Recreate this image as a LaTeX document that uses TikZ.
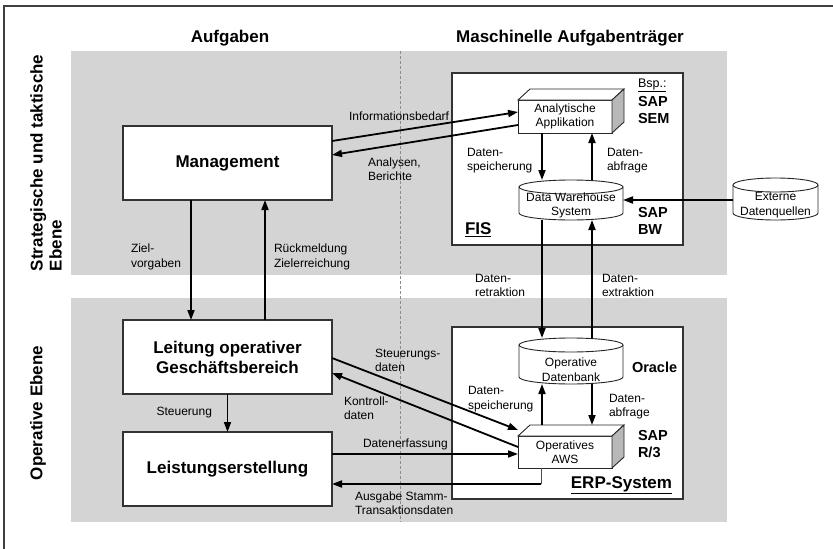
\documentclass[tikz,border=0pt]{standalone}
\usepackage{fontspec}
\setmainfont{Liberation Sans}
\usetikzlibrary{arrows.meta,calc}

% cylinder outline: #1 left x, #2 right x, #3 y of top ellipse centre, #4 y of bottom ellipse centre
\newcommand\dbshape[4]{%
  \filldraw[dbline] (#1,#3) -- (#1,#4)
    arc[start angle=180, end angle=0, x radius={(#2-#1)/2}, y radius=7] -- (#2,#3);
  \draw[dbline] ({(#1+#2)/2},#3) ellipse [x radius={(#2-#1)/2}, y radius=7];
}
% 3d block: top and right faces beside a front-face node
\newcommand\blockfaces[1]{%
  \filldraw[blockline] (#1.north west) -- ++(12,-11) -- ($(#1.north east)+(12,-11)$) -- (#1.north east) -- cycle;
  \filldraw[blockline, fill=black!28] (#1.north east) -- ++(12,-11) -- ($(#1.south east)+(12,-11)$) -- (#1.south east) -- cycle;
}

\begin{document}
\begin{tikzpicture}[x=1pt, y=-1pt,
  every node/.style={inner sep=0pt, outer sep=0pt},
  band/.style={fill=black!17, draw=none},
  frameline/.style={draw=black!75, line width=1.3pt},
  coltitle/.style={font=\fontsize{17}{20}\selectfont\bfseries},
  sidetitle/.style={font=\fontsize{17}{19}\selectfont\bfseries, align=left},
  taskbox/.style={draw=black!80, line width=1.1pt, fill=white, minimum width=209pt,
    minimum height=74pt, align=center, font=\fontsize{17}{20}\selectfont\bfseries},
  sysbox/.style={draw=black!80, line width=1.1pt, fill=white},
  blockline/.style={draw=black!85, line width=0.9pt, fill=white},
  dbline/.style={draw=black!85, line width=0.9pt, fill=white},
  block/.style={blockline, minimum width=94pt, minimum height=33pt, align=center,
    font=\fontsize{12}{14.5}\selectfont},
  dbbody/.style={minimum width=104pt, minimum height=40pt},
  dbtext/.style={align=center, font=\fontsize{12}{14.5}\selectfont},
  small/.style={align=left, font=\fontsize{12}{14.5}\selectfont},
  product/.style={align=left, font=\fontsize{14.5}{17}\selectfont\bfseries},
  sysname/.style={font=\fontsize{17}{20}\selectfont\bfseries},
  flow/.style={line width=1.8pt, -{Triangle[length=10pt,width=7pt]}}
]
\useasboundingbox (0,0) rectangle (833,549);
\fill[white] (0,0) rectangle (833,549);

% outer frame
\draw[frameline] (4,549) -- (4,6) -- (833,6);

% level bands
\fill[band] (71,51) rectangle (727,275);
\fill[band] (71,298) rectangle (727,522);
\draw[black!45, line width=0.6pt, dash pattern=on 3pt off 2pt] (400,51) -- (400,522);

% column and level titles
\node[coltitle] (ctask) at (230,38) {Aufgaben};
\node[coltitle] (cmach) at (570,38) {Maschinelle Aufgabenträger};
\node[sidetitle, rotate=90, anchor=west] (lvlstrat) at (46,271) {Strategische und taktische\\Ebene};
\node[sidetitle, rotate=90] (lvlop) at (38,413) {Operative Ebene};

% task boxes
\node[taskbox] (mgmt) at (227.5,163) {Management};
\node[taskbox] (leit) at (227.5,357) {Leitung operativer\\Geschäftsbereich};
\node[taskbox] (leist) at (227.5,469) {Leistungserstellung};

% system frames
\node[sysbox, minimum width=231pt, minimum height=172pt] (fis) at (567.5,159) {};
\node[sysbox, minimum width=231pt, minimum height=172pt] (erp) at (567.5,413) {};

% analytic application
\node[block] (app) at (565,116.5) {Analytische\\Applikation};
\blockfaces{app}

% data warehouse and external sources
\dbshape{519}{623}{187}{213}
\node[dbbody] (dw) at (571,200) {};
\node[dbtext] (dwtext) at (571,205.5) {Data Warehouse\\System};
\dbshape{733}{818}{185}{213}
\node[dbbody, minimum width=85pt] (ext) at (775.5,199) {};
\node[dbtext] (exttext) at (775.5,205) {Externe\\Datenquellen};

% operative database and application system
\dbshape{519}{623}{345}{377}
\node[dbbody, minimum height=46pt] (odb) at (571,361) {};
\node[dbtext] (odbtext) at (571,369.5) {Operative\\Datenbank};
\node[block, minimum height=32pt] (aws) at (565,452) {Operatives\\AWS};
\blockfaces{aws}

% product names
\node[anchor=west, font=\fontsize{12.5}{15}\selectfont] (bsp) at (638,85) {\underline{Bsp.:}};
\node[product, anchor=north west] (sem) at (638,96) {SAP\\SEM};
\node[product, anchor=north west] (bw) at (638,207) {SAP\\BW};
\node[product, anchor=west] (ora) at (632,367) {Oracle};
\node[product, anchor=north west] (r3) at (638,430) {SAP\\R/3};
\node[sysname, anchor=west] (fisname) at (465,230) {\underline{FIS}};
\node[sysname, anchor=east] (erpname) at (672,485) {\underline{ERP-System}};

% management <-> analytic application
\draw[flow] (mgmt.east |- 0,141) -- (app.west |- 0,112);
\draw[flow] (app.west |- 0,125) -- (mgmt.east |- 0,155);
\node[small, anchor=west] at (349,116) {Informationsbedarf};
\node[small, anchor=west] at (368,169) {Analysen,\\Berichte};

% vertical task flows
\draw[flow] (mgmt.south -| 191,0) -- (leit.north -| 191,0);
\draw[flow] (leit.north -| 265,0) -- (mgmt.south -| 265,0);
\node[small, anchor=west] at (131,257) {Ziel-\\vorgaben};
\node[small, anchor=west] at (274,257) {Rückmeldung\\Zielerreichung};
\draw[flow] (leit.south) -- (leist.north);
\node[small, anchor=east] at (212,413) {Steuerung};

% inside the FIS
\draw[flow] (app.south -| 542,0) -- (dw.north -| 542,0);
\draw[flow] (dw.north -| 592,0) -- (app.south -| 592,0);
\node[small, anchor=west] at (467,160.5) {Daten-\\speicherung};
\node[small, anchor=west] at (607,160.5) {Daten-\\abfrage};
\draw[flow] (ext.west |- 0,200) -- (dw.east |- 0,200);

% between FIS and ERP system
\draw[flow] (dw.south -| 542,0) -- (odb.north -| 542,0);
\draw[flow] (odb.north -| 592,0) -- (dw.south -| 592,0);
\node[small, anchor=west] at (475,285.5) {Daten-\\retraktion};
\node[small, anchor=west] at (602,285.5) {Daten-\\extraktion};

% inside the ERP system
\draw[flow] (542,425) -- (odb.south -| 542,0);
\draw[flow] (odb.south -| 592,0) -- (592,425);
\node[small, anchor=west] at (468,399) {Daten-\\speicherung};
\node[small, anchor=west] at (609,406.5) {Daten-\\abfrage};

% operative management and production <-> application system
\draw[flow] (leit.east |- 0,358) -- (aws.west |- 0,430);
\draw[flow] (aws.west |- 0,447) -- (leit.east |- 0,373);
\node[small, anchor=west] at (375,360.5) {Steuerungs-\\daten};
\node[small, anchor=west] at (344,408) {Kontroll-\\daten};
\draw[flow] (leist.east |- 0,454) -- (aws.west |- 0,454);
\node[small, anchor=west] at (363,444) {Datenerfassung};
\draw[line width=0.9pt, black!70] (aws.south -| 541,0) -- (541,484);
\draw[flow] (541,484) -- (leist.east |- 0,484);
\node[small, anchor=west] at (355,503) {Ausgabe Stamm-\\Transaktionsdaten};
\end{tikzpicture}
\end{document}
